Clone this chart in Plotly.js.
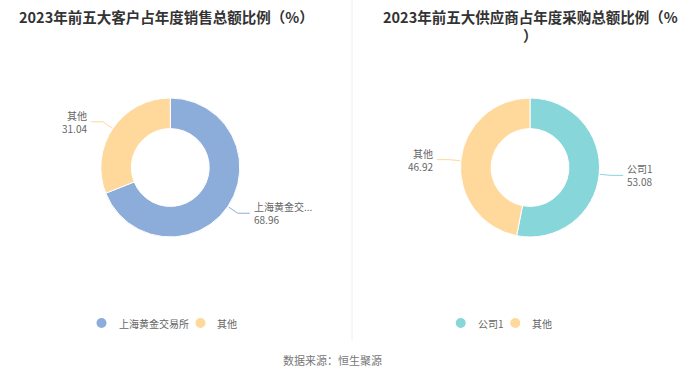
<!DOCTYPE html>
<html><head><meta charset="utf-8">
<script src="https://cdn.plot.ly/plotly-3.0.1.min.js"></script>
<style>html,body{margin:0;padding:0;background:#fff}#chart{width:700px;height:378px}</style>
</head><body><div id="chart"></div>
<script>
const customerLabels = ["上海黄金交易所", "其他"];
const customerValues = [68.96, 31.04];
const supplierLabels = ["公司1", "其他"];
const supplierValues = [53.08, 46.92];
const customerColors = ["#8CACDA", "#FFD89B"];
const supplierColors = ["#86D6DA", "#FFD89B"];
const leftTitle = "2023年前五大客户占年度销售总额比例（%）";
const rightTitle = "2023年前五大供应商占年度采购总额比例（%<br>）";
const sourceText = "数据来源：恒生聚源";

const W = 700, H = 378, R = 69.5, HOLE = 0.56;
const FONT = "'Noto Sans CJK SC', 'Noto Sans', sans-serif";
const LABEL_SIZE = 10, LEGEND_SIZE = 10;
const centers = [{cx: 170.3, cy: 167.5}, {cx: 530, cy: 167.5}];
const legendCenters = [166, 503], legendY = 323;
const px = x => x / W, py = y => 1 - y / H;

const measureCtx = document.createElement('canvas').getContext('2d');
function textWidth(t, size) {
  measureCtx.font = size + "px " + FONT;
  return measureCtx.measureText(t).width;
}

function domainOf(c) {
  return {x: [px(c.cx - R), px(c.cx + R)], y: [py(c.cy + R), py(c.cy - R)]};
}

const shapes = [], annotations = [];

function addLabels(labels, values, colors, c) {
  const total = values.reduce((a, b) => a + b, 0);
  let cum = 0;
  labels.forEach((lab, i) => {
    const v = values[i];
    const mid = (cum + v / 2) / total * 2 * Math.PI;
    cum += v;
    const dx = Math.sin(mid), dy = -Math.cos(mid);
    const p0 = {x: c.cx + (R + 1) * dx, y: c.cy + (R + 1) * dy};
    const p1 = {x: c.cx + (R + 12) * dx, y: c.cy + (R + 12) * dy};
    const s = dx >= 0 ? 1 : -1;
    const p2 = {x: p1.x + s * 12, y: p1.y};
    shapes.push({type: 'path', xref: 'paper', yref: 'paper',
      path: `M ${px(p0.x)},${py(p0.y)} L ${px(p1.x)},${py(p1.y)} L ${px(p2.x)},${py(p2.y)}`,
      line: {color: colors[i], width: 1}});
    const name = lab.length > 5 ? lab.slice(0, 5) + "..." : lab;
    const anchor = s > 0 ? 'left' : 'right';
    annotations.push({xref: 'paper', yref: 'paper', x: px(p2.x + s * 3), y: py(p2.y),
      xanchor: anchor, yanchor: 'middle', align: anchor, showarrow: false, borderpad: 0,
      text: name + '<br>' + v.toFixed(2),
      font: {family: FONT, size: LABEL_SIZE, color: '#666'}});
  });
}

function addLegend(labels, colors, centerX) {
  const widths = labels.map(l => 20 + textWidth(l, LEGEND_SIZE));
  const gap = 9;
  const total = widths.reduce((a, b) => a + b, 0) + gap * (labels.length - 1);
  let x = centerX - total / 2;
  labels.forEach((l, i) => {
    shapes.push({type: 'circle', xref: 'paper', yref: 'paper',
      x0: px(x), x1: px(x + 10), y0: py(legendY + 5), y1: py(legendY - 5),
      fillcolor: colors[i], line: {width: 0}});
    annotations.push({xref: 'paper', yref: 'paper', x: px(x + 20), y: py(legendY),
      xanchor: 'left', yanchor: 'middle', showarrow: false, text: l,
      font: {family: FONT, size: LEGEND_SIZE, color: '#666'}});
    x += widths[i] + gap;
  });
}

addLabels(customerLabels, customerValues, customerColors, centers[0]);
addLabels(supplierLabels, supplierValues, supplierColors, centers[1]);
addLegend(customerLabels, customerColors, legendCenters[0]);
addLegend(supplierLabels, supplierColors, legendCenters[1]);

const traces = [
  {type: 'pie', labels: customerLabels, values: customerValues, hole: HOLE, sort: false,
   direction: 'clockwise', rotation: 0, textinfo: 'none', showlegend: false,
   marker: {colors: customerColors, line: {color: '#fff', width: 1}}, domain: domainOf(centers[0])},
  {type: 'pie', labels: supplierLabels, values: supplierValues, hole: HOLE, sort: false,
   direction: 'clockwise', rotation: 0, textinfo: 'none', showlegend: false,
   marker: {colors: supplierColors, line: {color: '#fff', width: 1}}, domain: domainOf(centers[1])}
];

annotations.push({xref: 'paper', yref: 'paper', x: px(166), y: py(4), xanchor: 'center', yanchor: 'top',
  showarrow: false, text: '<b>' + leftTitle + '</b>', font: {family: FONT, size: 14.5, color: '#333'}});
annotations.push({xref: 'paper', yref: 'paper', x: px(530), y: py(4), xanchor: 'center', yanchor: 'top',
  showarrow: false, text: '<b>' + rightTitle + '</b>', font: {family: FONT, size: 14.5, color: '#333'}});
annotations.push({xref: 'paper', yref: 'paper', x: px(332), y: py(360), xanchor: 'center', yanchor: 'middle',
  showarrow: false, text: sourceText, font: {family: FONT, size: 11, color: '#777'}});

shapes.push({type: 'line', xref: 'paper', yref: 'paper', x0: px(352), x1: px(352), y0: py(0), y1: py(340),
  line: {color: '#eeeeee', width: 1}});

const layout = {
  width: W, height: H, margin: {l: 0, r: 0, t: 0, b: 0},
  paper_bgcolor: '#fff', plot_bgcolor: '#fff', showlegend: false,
  shapes: shapes, annotations: annotations, font: {family: FONT}
};

Plotly.newPlot('chart', traces, layout, {staticPlot: true, displayModeBar: false});
</script></body></html>
